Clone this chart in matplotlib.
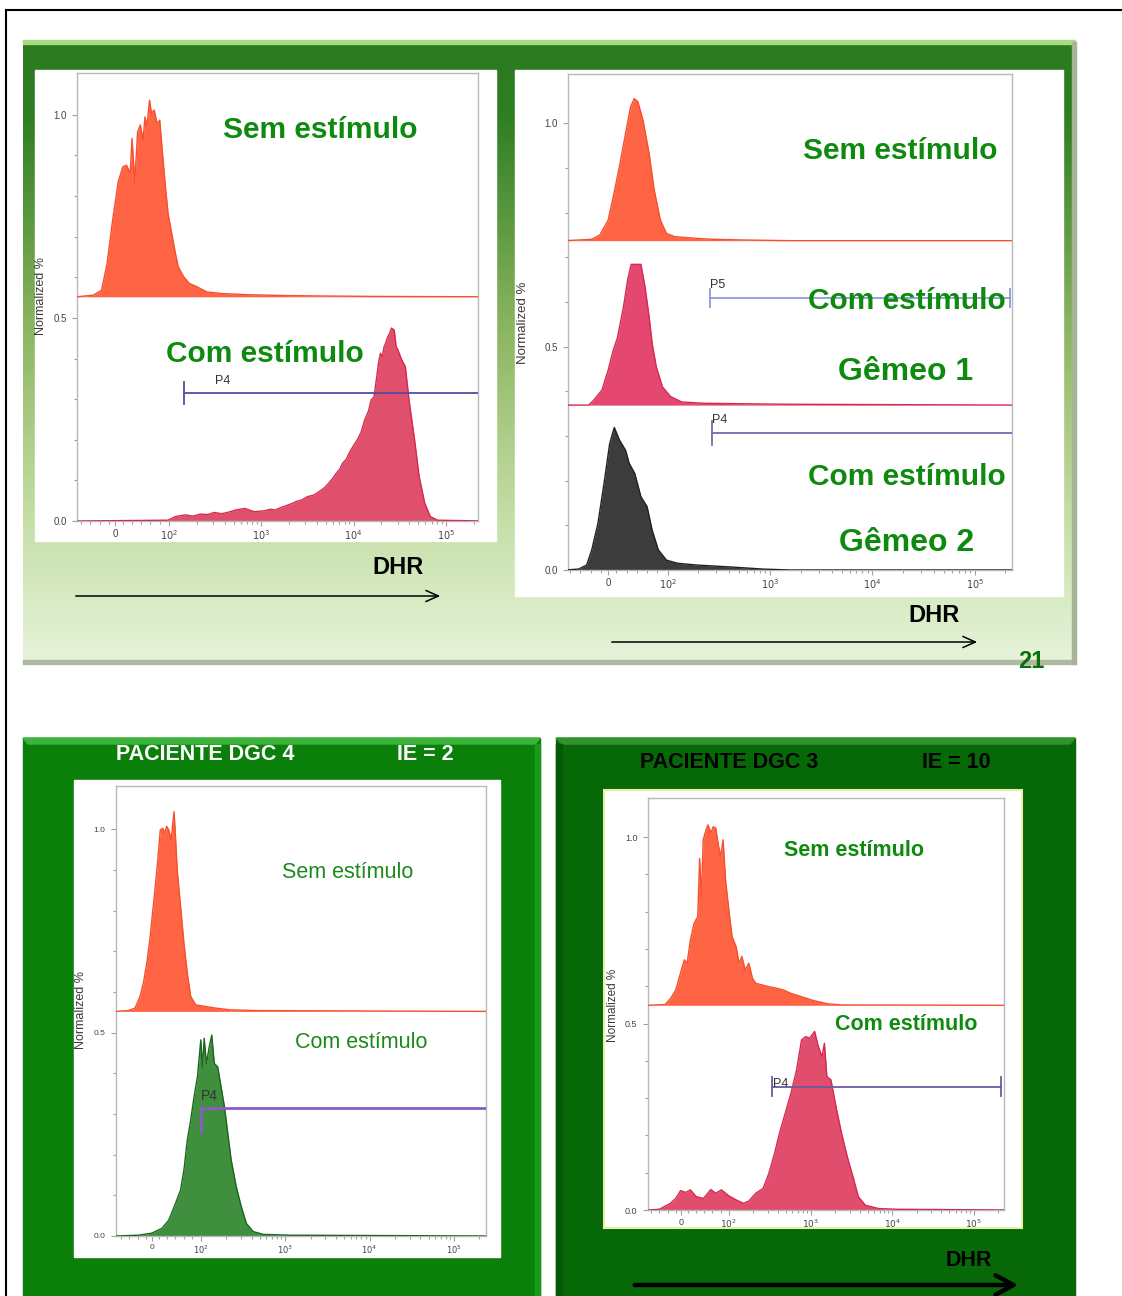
import numpy as np
import matplotlib.pyplot as plt
from matplotlib.colors import LinearSegmentedColormap
from matplotlib.patches import Rectangle, Polygon

plt.rcParams['font.family'] = ['Liberation Sans', 'DejaVu Sans']

W, H = 1122, 1296

# eixo x do citometro em "decadas" (escala biexponencial)
X_TICKS = [1.42, 2, 3, 4, 5]
X_LABELS = ['0', '$10^2$', '$10^3$', '$10^4$', '$10^5$']

# ---- painel superior esquerdo ----
TL_SEM_BASE = 0.552
TL_SEM_X = [1.00, 1.18, 1.27, 1.33, 1.39, 1.45, 1.50, 1.54, 1.58, 1.60,
            1.63, 1.66, 1.69, 1.72, 1.74, 1.76, 1.79, 1.81, 1.84, 1.87,
            1.90, 1.93, 1.96, 1.99, 2.03, 2.07, 2.10, 2.16, 2.22, 2.30,
            2.41, 2.57, 2.88, 3.26, 3.65, 4.20, 5.40]
TL_SEM_Y = [0.0, 0.004, 0.016, 0.082, 0.189, 0.283, 0.320, 0.324, 0.304, 0.390,
            0.283, 0.406, 0.423, 0.386, 0.443, 0.419, 0.484, 0.452, 0.460, 0.427,
            0.435, 0.353, 0.275, 0.205, 0.156, 0.107, 0.074, 0.049, 0.033, 0.025,
            0.012, 0.008, 0.005, 0.003, 0.002, 0.001, 0.0]
TL_COM_X = [1.00, 1.99, 2.07, 2.18, 2.26, 2.34, 2.42, 2.49, 2.57, 2.65,
            2.72, 2.82, 2.92, 3.03, 3.10, 3.15, 3.21, 3.26, 3.32, 3.38,
            3.44, 3.50, 3.57, 3.61, 3.65, 3.69, 3.73, 3.77, 3.81, 3.85,
            3.88, 3.92, 3.96, 4.00, 4.04, 4.08, 4.12, 4.16, 4.19, 4.22,
            4.25, 4.27, 4.29, 4.31, 4.33, 4.35, 4.37, 4.39, 4.41, 4.44,
            4.46, 4.48, 4.52, 4.56, 4.60, 4.66, 4.71, 4.77, 4.83, 4.91, 5.40]
TL_COM_Y = [0.0, 0.002, 0.011, 0.015, 0.012, 0.017, 0.016, 0.021, 0.018, 0.022,
            0.027, 0.031, 0.023, 0.025, 0.029, 0.027, 0.033, 0.037, 0.042, 0.048,
            0.052, 0.060, 0.064, 0.070, 0.076, 0.083, 0.093, 0.104, 0.117, 0.128,
            0.142, 0.152, 0.171, 0.186, 0.200, 0.218, 0.249, 0.270, 0.298, 0.305,
            0.355, 0.390, 0.413, 0.405, 0.429, 0.440, 0.454, 0.462, 0.475, 0.470,
            0.430, 0.421, 0.397, 0.380, 0.298, 0.200, 0.109, 0.044, 0.011, 0.002, 0.0]
TL_GATE = (2.16, 5.40, 0.314)

# ---- painel superior direito (gemeos) ----
TR_SEM_BASE = 0.737
TR_SEM_X = [1.00, 1.26, 1.34, 1.42, 1.47, 1.53, 1.59, 1.64, 1.675, 1.71,
            1.76, 1.82, 1.87, 1.93, 1.99, 2.07, 2.18, 2.29, 2.45, 2.75, 3.2, 5.40]
TR_SEM_Y = [0.0, 0.003, 0.013, 0.046, 0.098, 0.166, 0.240, 0.300, 0.318, 0.311,
            0.270, 0.195, 0.113, 0.046, 0.016, 0.009, 0.007, 0.005, 0.003, 0.0015, 0.0, 0.0]
TR_G1_BASE = 0.369
TR_G1_X = [1.00, 1.23, 1.28, 1.36, 1.42, 1.47, 1.51, 1.57, 1.61, 1.645,
           1.74, 1.78, 1.82, 1.85, 1.89, 1.95, 2.03, 2.14, 2.37, 3.13, 5.40]
TR_G1_Y = [0.0, 0.0, 0.011, 0.034, 0.078, 0.123, 0.150, 0.220, 0.280, 0.315,
           0.315, 0.265, 0.198, 0.138, 0.086, 0.041, 0.019, 0.007, 0.004, 0.002, 0.0]
TR_G2_X = [1.00, 1.13, 1.21, 1.26, 1.32, 1.38, 1.435, 1.48, 1.53, 1.59,
           1.625, 1.68, 1.74, 1.80, 1.85, 1.91, 1.99, 2.10, 2.29, 2.60,
           2.94, 3.2, 5.40]
TR_G2_Y = [0.0, 0.002, 0.011, 0.045, 0.104, 0.194, 0.283, 0.319, 0.291, 0.268,
           0.239, 0.216, 0.164, 0.142, 0.089, 0.045, 0.022, 0.015, 0.011, 0.007,
           0.002, 0.0, 0.0]
TR_P5 = (2.415, 5.34, 0.608)
TR_P4 = (2.434, 5.40, 0.306)

# ---- paciente DGC 4 ----
BL_SEM_BASE = 0.552
BL_SEM_X = [0.99, 1.14, 1.22, 1.28, 1.32, 1.36, 1.40, 1.44, 1.48, 1.52,
            1.55, 1.57, 1.595, 1.62, 1.65, 1.668, 1.683, 1.70, 1.72, 1.76,
            1.80, 1.84, 1.88, 1.94, 2.06, 2.18, 2.34, 2.66, 5.40]
BL_SEM_Y = [0.0, 0.002, 0.008, 0.037, 0.070, 0.119, 0.184, 0.266, 0.348, 0.446,
            0.450, 0.438, 0.455, 0.446, 0.422, 0.463, 0.491, 0.430, 0.348, 0.258,
            0.168, 0.094, 0.037, 0.016, 0.012, 0.008, 0.004, 0.002, 0.0]
BL_COM_X = [0.99, 1.26, 1.42, 1.54, 1.62, 1.70, 1.76, 1.80, 1.84, 1.88,
            1.92, 1.96, 2.00, 2.02, 2.04, 2.067, 2.10, 2.13, 2.16, 2.20,
            2.24, 2.28, 2.32, 2.36, 2.42, 2.48, 2.54, 2.62, 2.74, 3.06, 5.40]
BL_COM_Y = [0.0, 0.002, 0.007, 0.019, 0.039, 0.080, 0.113, 0.162, 0.236, 0.285,
            0.342, 0.391, 0.482, 0.416, 0.486, 0.424, 0.465, 0.494, 0.424, 0.416,
            0.367, 0.318, 0.252, 0.187, 0.121, 0.072, 0.031, 0.011, 0.004, 0.002, 0.0]
BL_GATE = (2.0, 5.40, 0.315)

# ---- paciente DGC 3 ----
BR_SEM_BASE = 0.549
BR_SEM_X = [1.01, 1.22, 1.29, 1.35, 1.42, 1.455, 1.49, 1.53, 1.575, 1.62,
            1.643, 1.665, 1.687, 1.72, 1.745, 1.78, 1.81, 1.84, 1.875, 1.90,
            1.93, 1.96, 2.00, 2.04, 2.09, 2.125, 2.16, 2.20, 2.245, 2.29,
            2.33, 2.40, 2.49, 2.58, 2.67, 2.76, 2.89, 3.03, 3.21, 3.38, 5.40]
BR_SEM_Y = [0.0, 0.002, 0.019, 0.041, 0.095, 0.122, 0.113, 0.175, 0.220, 0.238,
            0.394, 0.292, 0.444, 0.470, 0.484, 0.462, 0.479, 0.475, 0.426, 0.399,
            0.444, 0.336, 0.256, 0.184, 0.157, 0.113, 0.131, 0.095, 0.113, 0.072,
            0.059, 0.055, 0.050, 0.046, 0.041, 0.032, 0.023, 0.013, 0.004, 0.001, 0.0]
BR_COM_X = [1.01, 1.15, 1.285, 1.35, 1.41, 1.47, 1.53, 1.60, 1.69, 1.78,
            1.84, 1.91, 2.00, 2.09, 2.18, 2.245, 2.33, 2.42, 2.49, 2.56,
            2.62, 2.69, 2.76, 2.83, 2.89, 2.94, 2.99, 3.05, 3.09, 3.14,
            3.17, 3.20, 3.25, 3.32, 3.38, 3.45, 3.52, 3.585, 3.67, 3.83, 4.05, 5.40]
BR_COM_Y = [0.0, 0.002, 0.018, 0.031, 0.052, 0.047, 0.054, 0.036, 0.031, 0.055,
            0.045, 0.054, 0.038, 0.027, 0.018, 0.024, 0.045, 0.058, 0.098, 0.152,
            0.206, 0.259, 0.313, 0.376, 0.456, 0.465, 0.461, 0.479, 0.443, 0.411,
            0.447, 0.358, 0.349, 0.268, 0.206, 0.143, 0.089, 0.036, 0.013, 0.004, 0.002, 0.0]
BR_GATE = (2.526, 5.327, 0.331)

ORANGE, ORANGE_E = '#ff6444', '#f4502e'
CRIMSON, CRIMSON_E = '#e14d6c', '#d42a50'
GREEN_TXT = '#0e8a0e'

fig = plt.figure(figsize=(W / 100, H / 100), dpi=100)
bg = fig.add_axes([0, 0, 1, 1])
bg.set_xlim(0, W)
bg.set_ylim(H, 0)
bg.axis('off')


def rect(x0, y0, x1, y1, **kw):
    bg.add_patch(Rectangle((x0, y0), x1 - x0, y1 - y0, **kw))


def px_axes(x0, y0, x1, y1):
    return fig.add_axes([x0 / W, 1 - y1 / H, (x1 - x0) / W, (y1 - y0) / H])


# moldura preta
bg.plot([6, 6], [10, H], color='black', lw=1.5)
bg.plot([6, W], [10, 10], color='black', lw=1.5)

# painel superior com degrade verde
cmap = LinearSegmentedColormap.from_list('slide', [
    (0.0, '#2a7a20'), (0.12, '#2f7e24'), (0.3, '#5e9a42'), (0.45, '#88b45e'),
    (0.6, '#a6c880'), (0.75, '#c2dca2'), (0.9, '#d8ebc4'), (1.0, '#e6f3da')])
grad = np.linspace(0, 1, 256).reshape(-1, 1)
bg.imshow(grad, cmap=cmap, extent=(23, 1075, 663, 40), aspect='auto', zorder=0)
rect(23, 40, 1075, 44, color='#a8dc84', zorder=1)
rect(23, 660, 1076, 664, color='#b0b8a2', zorder=1)
rect(1072, 42, 1076, 664, color='#a9b398', zorder=1)
rect(35, 70, 496, 541, color='white', zorder=2)
rect(515, 70, 1063, 596, color='white', zorder=2)

# paineis inferiores
rect(23, 738, 540, H + 5, color='#0a800a', zorder=1)
bg.add_patch(Polygon([(23, 738), (540, 738), (535, 744), (28, 744)], color='#3cb43c', zorder=2))
rect(535, 744, 540, H + 5, color='#1a9a1a', zorder=2)
rect(74, 780, 500, 1257, color='white', zorder=3)

rect(556, 738, 1075, H + 5, color='#076807', zorder=1)
bg.add_patch(Polygon([(556, 738), (1075, 738), (1070, 744), (562, 744)], color='#32922f', zorder=2))
rect(556, 744, 562, H + 5, color='#055805', zorder=2)
rect(604, 790, 1022, 1228, facecolor='white', edgecolor='#e8f0a8', lw=1.5, zorder=3)


def flow_axes(box, xlim, ylim, fs=7):
    ax = px_axes(*box)
    ax.set_xlim(*xlim)
    ax.set_ylim(*ylim)
    ax.patch.set_alpha(0)
    for s in ax.spines.values():
        s.set_color('#b8b8b8')
        s.set_linewidth(1)
    ax.set_xticks(X_TICKS)
    ax.set_xticklabels(X_LABELS)
    minor = [d + np.log10(k) for d in (2, 3, 4) for k in range(2, 10)]
    minor += [1.05, 1.15, 1.25, 1.35, 1.5, 1.6, 1.7, 1.8, 1.9, 5.3]
    ax.set_xticks(minor, minor=True)
    ax.set_yticks([0, 0.5, 1.0])
    ax.set_yticklabels(['0.0', '0.5', '1.0'])
    ax.set_yticks(np.arange(0, 1.05, 0.1), minor=True)
    ax.tick_params(which='both', direction='out', colors='#a0a0a0',
                   labelcolor='#444444', labelsize=fs, length=3.5, width=0.8)
    ax.tick_params(axis='y', which='both', pad=4)
    ax.tick_params(axis='x', which='both', pad=2)
    ax.tick_params(which='minor', length=2)
    return ax


def hist(ax, x, y, base, face, edge, lw=1.0):
    top = base + np.asarray(y)
    ax.fill_between(x, base, top, color=face, lw=0, zorder=2)
    ax.plot(x, top, color=edge, lw=lw, zorder=3)


def gate(ax, g, label, color, lw=1.3, up=0.025, down=0.025, both=False, lx=0.08, ly=0.03, fs=9):
    x0, x1, yv = g
    ax.plot([x0, x1], [yv, yv], color=color, lw=lw, zorder=4)
    ax.plot([x0, x0], [yv - down, yv + up], color=color, lw=lw, zorder=4)
    if both:
        ax.plot([x1, x1], [yv - down, yv + up], color=color, lw=lw, zorder=4)
    ax.text(x0 + lx, yv + ly, label, fontsize=fs, color='#333333', ha='left', va='center', zorder=5)


# ---- superior esquerdo ----
ax1 = flow_axes((77, 73, 478, 521), (1.004, 5.347), (0, 1.103))
hist(ax1, TL_SEM_X, TL_SEM_Y, TL_SEM_BASE, ORANGE, ORANGE_E)
hist(ax1, TL_COM_X, TL_COM_Y, 0, '#e0506c', CRIMSON_E)
gate(ax1, TL_GATE, 'P4', '#5a4a9c', up=0.027, down=0.026, lx=0.34, ly=0.03)

# ---- superior direito ----
ax2 = flow_axes((568, 74, 1012, 570), (1.028, 5.364), (0, 1.11))
hist(ax2, TR_SEM_X, TR_SEM_Y, TR_SEM_BASE, ORANGE, ORANGE_E)
hist(ax2, TR_G1_X, TR_G1_Y, TR_G1_BASE, '#e44870', CRIMSON_E)
hist(ax2, TR_G2_X, TR_G2_Y, 0, '#3c3c3c', '#222222')
gate(ax2, TR_P5, 'P5', '#8c9ad6', up=0.02, down=0.02, both=True, lx=0.0, ly=0.03)
gate(ax2, TR_P4, 'P4', '#7a68b0', up=0.027, down=0.026, lx=0.0, ly=0.03)

# ---- DGC 4 ----
ax3 = flow_axes((116, 786, 486, 1236), (0.995, 5.38), (0, 1.106), fs=6)
hist(ax3, BL_SEM_X, BL_SEM_Y, BL_SEM_BASE, ORANGE, ORANGE_E)
hist(ax3, BL_COM_X, BL_COM_Y, 0, '#3f8f3f', '#1d661d')
gate(ax3, BL_GATE, 'P4', '#8a5cc8', lw=2.0, up=0.0, down=0.06, lx=0.0, ly=0.03, fs=10)

# ---- DGC 3 ----
ax4 = flow_axes((648, 798, 1004, 1210), (1.011, 5.368), (0, 1.105), fs=6.5)
hist(ax4, BR_SEM_X, BR_SEM_Y, BR_SEM_BASE, ORANGE, ORANGE_E)
hist(ax4, BR_COM_X, BR_COM_Y, 0, CRIMSON, CRIMSON_E)
gate(ax4, BR_GATE, 'P4', '#6c5aa0', up=0.025, down=0.025, both=True, lx=0.02, ly=0.006)

# camada de textos por cima dos graficos
top = fig.add_axes([0, 0, 1, 1])
top.set_xlim(0, W)
top.set_ylim(H, 0)
top.axis('off')

# rotulos "Normalized %"
for xx, yy, fs in [(41, 296, 9), (523, 323, 9.5), (81, 1010, 9), (613, 1005, 8.5)]:
    top.text(xx, yy, 'Normalized %', rotation=90, ha='center', va='center',
             fontsize=fs, color='#3a3a3a', zorder=5)

# textos do painel superior
big = dict(fontsize=21.5, fontweight='bold', color=GREEN_TXT, ha='center', va='center', zorder=10)
top.text(320, 130, 'Sem estímulo', **big)
top.text(265, 354, 'Com estímulo', **big)
top.text(900, 151, 'Sem estímulo', **big)
top.text(907, 301, 'Com estímulo', **big)
top.text(906, 372, 'Gêmeo 1', **dict(big, fontsize=23))
top.text(907, 477, 'Com estímulo', **big)
top.text(907, 543, 'Gêmeo 2', **dict(big, fontsize=23))
top.text(398, 568, 'DHR', fontsize=17, fontweight='bold', color='black', ha='center', va='center')
top.text(934, 616, 'DHR', fontsize=17, fontweight='bold', color='black', ha='center', va='center')
top.text(1031, 661, '21', fontsize=17, fontweight='bold', color='#0b6e0b', ha='center', va='center', zorder=10)

thin = dict(arrowstyle='->,head_length=0.9,head_width=0.4', color='black', lw=1.1, mutation_scale=10)
top.annotate('', xy=(443, 596), xytext=(73, 596), arrowprops=thin)
top.annotate('', xy=(980, 642), xytext=(609, 642), arrowprops=thin)

# textos dos paineis inferiores
top.text(205, 755, 'PACIENTE DGC 4', fontsize=15.5, fontweight='bold', color='white', ha='center', va='center')
top.text(425, 755, 'IE = 2', fontsize=15.5, fontweight='bold', color='white', ha='center', va='center')
top.text(348, 873, 'Sem estímulo', fontsize=15.5, color='#1a8a1a', ha='center', va='center', zorder=10)
top.text(361, 1043, 'Com estímulo', fontsize=15.5, color='#1a8a1a', ha='center', va='center', zorder=10)

top.text(729, 762, 'PACIENTE DGC 3', fontsize=15.5, fontweight='bold', color='black', ha='center', va='center')
top.text(956, 762, 'IE = 10', fontsize=15.5, fontweight='bold', color='black', ha='center', va='center')
top.text(854, 851, 'Sem estímulo', fontsize=15.5, fontweight='bold', color=GREEN_TXT, ha='center', va='center', zorder=10)
top.text(906, 1024, 'Com estímulo', fontsize=15.5, fontweight='bold', color=GREEN_TXT, ha='center', va='center', zorder=10)
top.text(969, 1261, 'DHR', fontsize=15.5, fontweight='bold', color='black', ha='center', va='center')
thick = dict(arrowstyle='->,head_length=1.3,head_width=0.7', color='black', lw=3.2, mutation_scale=10)
top.annotate('', xy=(1021, 1285), xytext=(632, 1285), arrowprops=thick)

fig.savefig('out.png', dpi=100)
